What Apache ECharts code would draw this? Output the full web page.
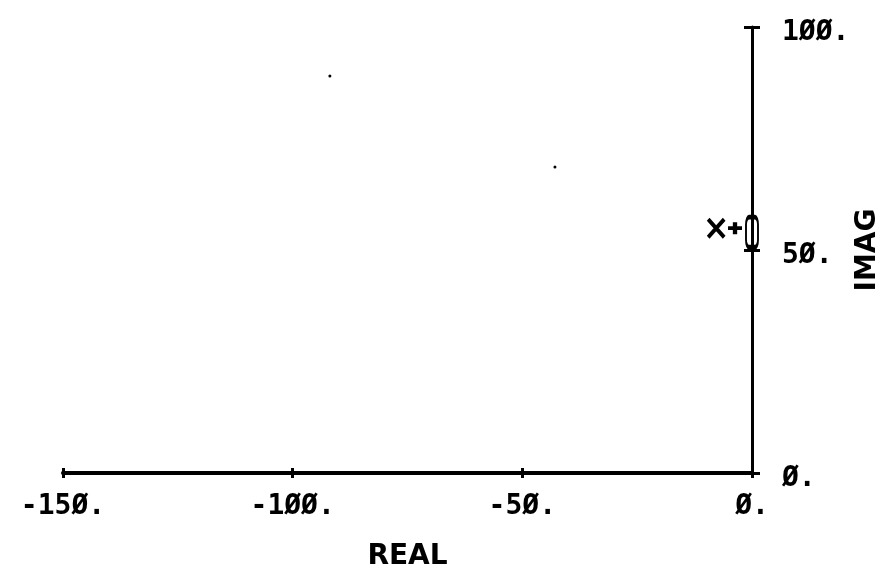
<!DOCTYPE html>
<html><head><meta charset="utf-8">
<script src="https://cdn.jsdelivr.net/npm/echarts@6/dist/echarts.min.js"></script>
<style>html,body{margin:0;padding:0;background:#fff}#c{width:882px;height:574px}</style>
</head><body><div id="c"></div>
<script>
// Data
const xTicks = [-150, -100, -50, 0];
const yTicks = [0, 50, 100];
const poleX = [[-7.8, 54.9]];       // "X" marker
const plusPt = [[-3.7, 54.9]];      // "+" marker
const zeroPt = [[0, 54.0]];         // "O" marker
const strayDots = [[-91.9, 89.0], [-42.9, 68.6]];

const FONT = 'DejaVu Sans Mono';
const fmtNum = v => String(v).replace(/0/g, 'Ø') + '.';

const chart = echarts.init(document.getElementById('c'), null, {renderer: 'canvas'});
const option = {
  backgroundColor: '#fff',
  animation: false,
  grid: {left: 63, right: 130, top: 27, bottom: 101, containLabel: false, outerBoundsMode: 'none'},
  xAxis: [{
    type: 'value', min: -150, max: 0, interval: 50, position: 'bottom',
    axisLine: {show: true, onZero: false, lineStyle: {color: '#000', width: 4}},
    axisTick: {show: true, length: 5, lineStyle: {color: '#000', width: 3}},
    splitLine: {show: false},
    axisLabel: {show: true, margin: 20, color: '#000', fontFamily: FONT, fontWeight: 'bold', fontSize: 28,
      formatter: v => fmtNum(v)},
    name: 'REAL', nameLocation: 'middle', nameGap: 70, nameMoveOverlap: false,
    nameTextStyle: {color: '#000', fontFamily: 'DejaVu Sans', fontWeight: 'bold', fontSize: 28}
  }, {
    type: 'value', min: -150, max: 0, interval: 50, position: 'bottom', offset: 0,
    axisLine: {show: false},
    axisTick: {show: true, inside: true, length: 5, lineStyle: {color: '#000', width: 3}},
    axisLabel: {show: false}, splitLine: {show: false}
  }],
  yAxis: [{
    type: 'value', min: 0, max: 100, interval: 50, position: 'right',
    axisLine: {show: true, onZero: false, lineStyle: {color: '#000', width: 3}},
    axisTick: {show: true, length: 8, lineStyle: {color: '#000', width: 3}},
    splitLine: {show: false},
    axisLabel: {show: true, margin: 30, color: '#000', fontFamily: FONT, fontWeight: 'bold', fontSize: 28,
      formatter: v => '{a|' + fmtNum(v) + '}',
      rich: {a: {fontFamily: FONT, fontWeight: 'bold', fontSize: 28, color: '#000', padding: [12, 0, 0, 0]}}},
    name: 'IMAG', nameLocation: 'middle', nameGap: 102, nameRotate: 90, nameMoveOverlap: false,
    nameTextStyle: {color: '#000', fontFamily: 'DejaVu Sans', fontWeight: 'bold', fontSize: 28}
  }, {
    type: 'value', min: 0, max: 100, interval: 50, position: 'right', offset: 0,
    axisLine: {show: false},
    axisTick: {show: true, inside: true, length: 8, lineStyle: {color: '#000', width: 3}},
    axisLabel: {show: false}, splitLine: {show: false}
  }],
  series: [
    {type: 'scatter', data: poleX, symbol: 'path://M0,0L10,10M10,0L0,10', symbolSize: [16, 18],
      itemStyle: {color: 'none', borderColor: '#000', borderWidth: 4, opacity: 1}, z: 5},
    {type: 'scatter', data: plusPt, symbol: 'path://M5,0L5,10M0,5L10,5', symbolSize: [14, 12],
      itemStyle: {color: 'none', borderColor: '#000', borderWidth: 4, opacity: 1}, z: 5},
    {type: 'scatter', data: zeroPt, symbol: 'roundRect', symbolSize: [12, 30],
      itemStyle: {color: 'rgba(0,0,0,0)', borderColor: '#000', borderWidth: 3, opacity: 1}, z: 5},
    {type: 'scatter', data: strayDots, symbol: 'circle', symbolSize: 3,
      itemStyle: {color: '#000', opacity: 1}, z: 5}
  ]
};
chart.setOption(option);
</script>
</body></html>
